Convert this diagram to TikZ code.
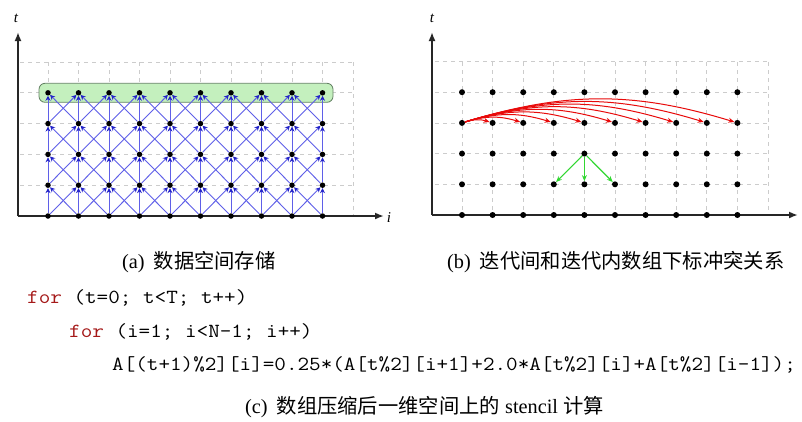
\documentclass[tikz,border=0pt]{standalone}
\usepackage{fontspec}
\setmainfont{Liberation Serif}
\newfontfamily\cjk{Noto Sans CJK SC}
\usetikzlibrary{arrows.meta}
\definecolor{depblue}{RGB}{95,95,232}
\definecolor{tipblue}{RGB}{35,35,200}
\definecolor{boxgreen}{RGB}{196,240,190}
\definecolor{boxedge}{RGB}{100,130,100}
\definecolor{arcred}{RGB}{232,10,10}
\definecolor{arrgreen}{RGB}{50,215,50}
\definecolor{kwred}{RGB}{165,25,25}
\newcommand\codeline[1]{\scalebox{1.125}[1]{\fontsize{20}{20}\selectfont\ttfamily\addfontfeatures{FakeBold=1}#1}}
\newcommand\capfont{\fontsize{20.3}{21}\selectfont}
\tikzset{
  dot/.style={circle,fill=black,inner sep=0pt,minimum size=5.5pt},
  gridline/.style={draw=black!20,dash pattern=on 4pt off 4pt,line width=0.7pt},
  axisline/.style={line width=1.9pt,draw=black!85,-{Latex[length=9pt,width=7pt]}},
  dep/.style={draw=depblue,line width=0.9pt,-{Stealth[length=5pt,width=5pt,color=tipblue]}},
  redarc/.style={draw=arcred,line width=1pt,-{Stealth[length=6pt,width=5pt]}},
  grnarr/.style={draw=arrgreen,line width=1.1pt,-{Stealth[length=6pt,width=5pt]}},
  axlabel/.style={font=\fontsize{15}{15}\selectfont\itshape,inner sep=0pt},
  caption/.style={anchor=west,inner sep=0pt,font=\capfont},
  code/.style={anchor=west,inner sep=0pt}
}
\begin{document}
\begin{tikzpicture}[x=1pt,y=-1pt]
\useasboundingbox (0,0) rectangle (802,421);
\fill[white] (0,0) rectangle (802,421);

% ---------- panel (a) ----------
\foreach \t in {1,...,5} \draw[gridline] (20,{216-30.8*\t}) -- (353,{216-30.8*\t});
\foreach \k in {0,...,10} \draw[gridline] ({48+30.5*\k},62) -- ({48+30.5*\k},216);
\coordinate (oa) at (18,216);
\coordinate (ta) at (18,32);
\coordinate (ia) at (384,216);
\draw[axisline] (oa) -- (ta);
\draw[axisline] (oa) -- (ia);
\node[axlabel] (lta) at (16,18) {t};
\node[axlabel] (lia) at (389,218) {i};
\node[draw=boxedge,fill=boxgreen,rounded corners=6pt,line width=0.8pt,minimum width=294pt,minimum height=19pt,inner sep=0pt] (box) at (186,92.8) {};
\foreach \t in {0,...,4}
  \foreach \k in {0,...,9}
    \node[dot] (a-\k-\t) at ({48+30.5*\k},{216-30.8*\t}) {};
\foreach \t [evaluate=\t as \tn using int(\t+1)] in {0,...,3} {
  \foreach \k [evaluate=\k as \kl using int(\k-1), evaluate=\k as \kr using int(\k+1)] in {0,...,9} {
    \draw[dep] (a-\k-\t) -- (a-\k-\tn);
    \ifnum\k>0 \draw[dep] (a-\k-\t) -- (a-\kl-\tn); \fi
    \ifnum\k<9 \draw[dep] (a-\k-\t) -- (a-\kr-\tn); \fi
  }
}

% ---------- panel (b) ----------
\foreach \t in {1,...,5} \draw[gridline] (435,{215-30.7*\t}) -- (768,{215-30.7*\t});
\foreach \k in {0,...,10} \draw[gridline] ({462+30.6*\k},62) -- ({462+30.6*\k},215);
\coordinate (ob) at (432,215);
\coordinate (tb) at (432,32);
\coordinate (ib) at (798,215);
\draw[axisline] (ob) -- (tb);
\draw[axisline] (ob) -- (ib);
\node[axlabel] (ltb) at (432,18) {t};
\foreach \t in {0,...,4}
  \foreach \k in {0,...,9}
    \node[dot,minimum size=6pt] (b-\k-\t) at ({462+30.6*\k},{215-30.7*\t}) {};
\foreach \k in {1,...,9}
  \draw[redarc] (b-0-3) to[bend left=17] (b-\k-3);
\draw[grnarr] (b-4-2) -- (b-3-1);
\draw[grnarr] (b-4-2) -- (b-4-1);
\draw[grnarr] (b-4-2) -- (b-5-1);

% ---------- captions and code ----------
\node[caption] (capa) at (122,262) {(a)\hspace{9pt}{\cjk 数据空间存储}};
\node[caption] (capb) at (447,262) {(b)\hspace{9pt}{\cjk 迭代间和迭代内数组下标冲突关系}};
\node[code] (c1) at (27,298) {\codeline{\textcolor{kwred}{for} (t=0; t<T; t++)}};
\node[code] (c2) at (69,332) {\codeline{\textcolor{kwred}{for} (i=1; i<N-1; i++)}};
\node[code] (c3) at (112,365) {\codeline{A[(t+1)\%2][i]=0.25*(A[t\%2][i+1]+2.0*A[t\%2][i]+A[t\%2][i-1]);}};
\node[caption] (capc) at (245,407) {(c)\hspace{9pt}{\cjk 数组压缩后一维空间上的} stencil {\cjk 计算}};
\end{tikzpicture}
\end{document}
